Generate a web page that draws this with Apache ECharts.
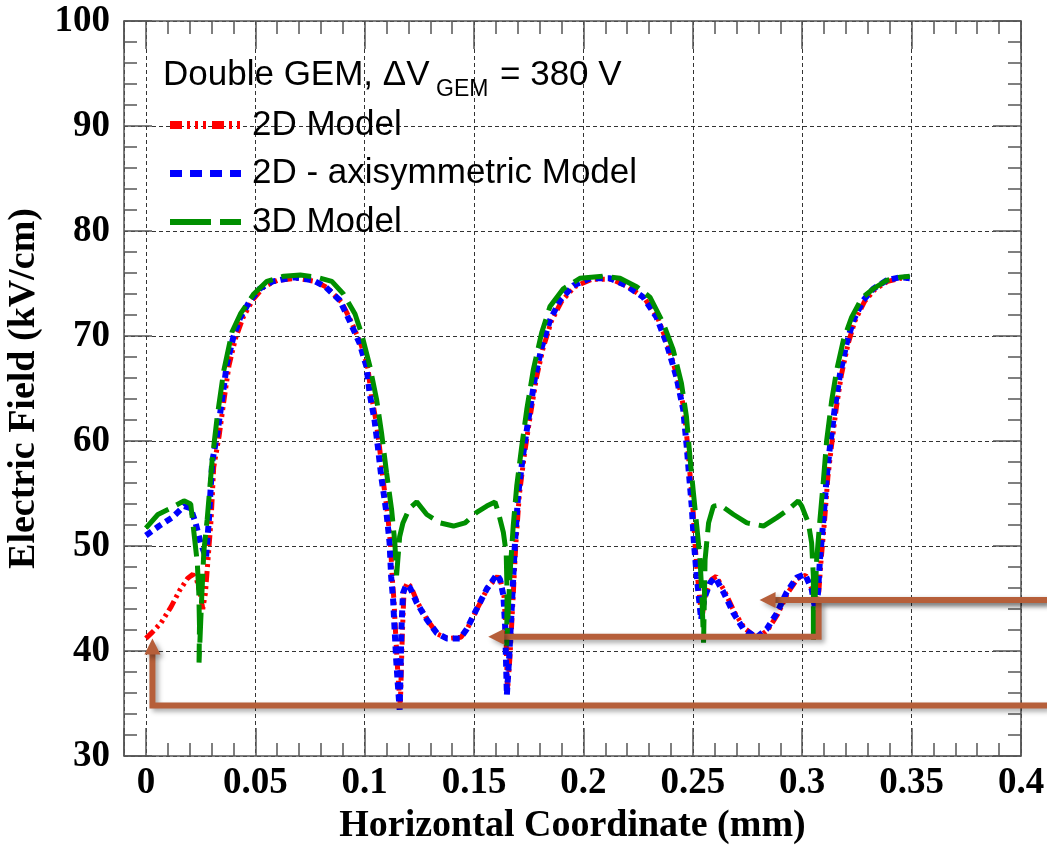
<!DOCTYPE html>
<html>
<head>
<meta charset="utf-8">
<script src="https://cdn.jsdelivr.net/npm/echarts@6/dist/echarts.min.js"></script>
<style>
  html, body { margin: 0; padding: 0; background: #fff; }
  #chart { width: 1047px; height: 845px; }
</style>
</head>
<body>
<div id="chart"></div>
<script>
// 2D model (red)
const model2D = [
  [0, 41.2], [0.003, 41.8], [0.007, 42.7], [0.0115, 44.2], [0.0155, 45.8], [0.019, 46.9],
  [0.0215, 47.3], [0.0232, 46.8], [0.0248, 45.5], [0.026, 44.0], [0.0272, 45.5], [0.0285, 49.0],
  [0.0298, 52.5], [0.031, 57.5], [0.0335, 60.5], [0.0357, 63.9], [0.038, 67.2], [0.041, 69.8],
  [0.0445, 71.8], [0.049, 73.5], [0.054, 74.7], [0.06, 75.3], [0.069, 75.5], [0.0775, 75.2],
  [0.083, 74.6], [0.0895, 73.2], [0.094, 71.3], [0.0985, 69.1], [0.1015, 66.9], [0.103, 64.4],
  [0.1052, 61.9], [0.1068, 59.4], [0.1083, 56.5], [0.1105, 53.0], [0.1118, 50.2], [0.1126, 47.0],
  [0.1134, 44.8], [0.114, 42.3], [0.1148, 39.1], [0.1156, 36.6], [0.1163, 34.8], [0.1172, 41.5],
  [0.118, 45.8], [0.1195, 46.5], [0.1212, 46.1], [0.1242, 44.6], [0.1288, 42.9], [0.1334, 41.6],
  [0.1379, 41.2], [0.144, 41.3], [0.1471, 42.2], [0.1516, 44.1], [0.1562, 46.0], [0.1607, 47.1],
  [0.1622, 46.6], [0.1637, 45.2], [0.1645, 42.3], [0.1649, 39.1], [0.1653, 36.2], [0.1664, 39.4],
  [0.1676, 44.1], [0.1691, 50.2], [0.1707, 54.9], [0.173, 58.7], [0.1753, 61.9], [0.1785, 66.0],
  [0.1815, 68.8], [0.1853, 71.4], [0.19, 73.3], [0.196, 74.7], [0.2037, 75.4], [0.2128, 75.4],
  [0.2204, 74.7], [0.2279, 73.6], [0.234, 71.7], [0.2386, 69.2], [0.243, 66.0], [0.2461, 62.9],
  [0.2477, 59.4], [0.2488, 56.6], [0.25, 53.7], [0.251, 50.2], [0.2522, 47.0], [0.2534, 44.5],
  [0.2542, 43.2], [0.2557, 45.3], [0.2585, 46.8], [0.2607, 47.1], [0.2645, 45.7], [0.269, 43.7],
  [0.2735, 42.2], [0.2795, 41.2], [0.2842, 42.0], [0.2888, 43.5], [0.2933, 45.5], [0.2978, 46.9],
  [0.3016, 47.2], [0.3047, 45.8], [0.3063, 44.2], [0.3076, 45.7], [0.3086, 48.6], [0.3102, 52.4],
  [0.3117, 56.5], [0.3133, 59.4], [0.3156, 63.2], [0.3179, 66.3], [0.3209, 69.2], [0.324, 71.4],
  [0.3285, 73.3], [0.333, 74.4], [0.339, 75.2], [0.345, 75.5], [0.3495, 75.5]
]

// 2D - axisymmetric model (blue)
const model2DAxi = [
  [0, 51.0], [0.006, 51.9], [0.012, 52.7], [0.0175, 53.8], [0.0205, 53.6], [0.0227, 52.2],
  [0.025, 50.3], [0.0275, 48.9], [0.0288, 52.5], [0.0303, 58.0], [0.0326, 60.6], [0.0348, 63.9],
  [0.037, 67.3], [0.04, 69.9], [0.043, 71.7], [0.0477, 73.4], [0.052, 74.5], [0.058, 75.2],
  [0.0674, 75.6], [0.0765, 75.3], [0.082, 74.7], [0.0886, 73.4], [0.093, 71.5], [0.0977, 69.3],
  [0.1008, 67.1], [0.1023, 64.5], [0.1045, 62.0], [0.106, 59.5], [0.1076, 56.6], [0.11, 53.1],
  [0.1114, 50.3], [0.1121, 47.1], [0.113, 44.9], [0.1136, 42.4], [0.1144, 39.2], [0.1152, 36.7],
  [0.116, 34.4], [0.1168, 42.0], [0.1175, 45.5], [0.119, 46.3], [0.1208, 46.0], [0.1238, 44.6],
  [0.1284, 43.0], [0.133, 41.7], [0.1375, 41.2], [0.1436, 41.2], [0.1467, 42.1], [0.1512, 44.0],
  [0.1558, 45.9], [0.1604, 47.3], [0.1619, 46.8], [0.1634, 45.3], [0.1642, 42.4], [0.1646, 39.2],
  [0.165, 35.8], [0.166, 39.2], [0.1672, 44.0], [0.1687, 50.3], [0.1702, 55.0], [0.1725, 58.8],
  [0.1748, 62.0], [0.1779, 66.1], [0.1809, 68.9], [0.1847, 71.5], [0.1893, 73.4], [0.1954, 74.8],
  [0.203, 75.5], [0.2121, 75.5], [0.2197, 74.8], [0.2273, 73.7], [0.2334, 71.8], [0.238, 69.3],
  [0.2425, 66.1], [0.2456, 63.0], [0.2472, 59.5], [0.2483, 56.7], [0.2495, 53.8], [0.2505, 50.3],
  [0.2518, 47.1], [0.253, 44.6], [0.2538, 43.0], [0.2552, 45.0], [0.2579, 46.5], [0.2602, 47.0],
  [0.264, 45.6], [0.2686, 43.6], [0.2731, 42.1], [0.2792, 41.3], [0.2838, 42.1], [0.2884, 43.6],
  [0.2929, 45.6], [0.2975, 47.0], [0.3013, 47.3], [0.3043, 45.9], [0.3059, 44.0], [0.3072, 45.5],
  [0.3081, 48.7], [0.3097, 52.5], [0.3112, 56.6], [0.3127, 59.5], [0.315, 63.3], [0.3173, 66.4],
  [0.3203, 69.3], [0.3234, 71.5], [0.3279, 73.4], [0.3325, 74.5], [0.3386, 75.3], [0.3447, 75.6],
  [0.3492, 75.5]
]

// 3D model (green)
const model3D = [
  [0, 51.7], [0.0055, 53.0], [0.0114, 53.6], [0.0174, 54.3], [0.0205, 54.0], [0.022, 51.2],
  [0.0235, 48.4], [0.0242, 45.5], [0.0245, 42.4], [0.0243, 38.9], [0.0255, 45.0], [0.0265, 49.5],
  [0.028, 52.5], [0.0303, 58.2], [0.0326, 62.3], [0.0356, 66.7], [0.0394, 70.4], [0.0432, 72.1],
  [0.0493, 74.0], [0.0553, 75.2], [0.063, 75.7], [0.0706, 75.8], [0.0782, 75.6], [0.085, 75.2],
  [0.0903, 74.0], [0.0956, 72.1], [0.0986, 70.2], [0.1024, 67.1], [0.1055, 63.9], [0.1077, 60.8],
  [0.11, 57.0], [0.1123, 53.5], [0.1138, 50.3], [0.1146, 47.2], [0.116, 50.9], [0.1175, 52.2],
  [0.1205, 53.6], [0.1238, 54.2], [0.1284, 53.0], [0.1345, 52.2], [0.1406, 51.9], [0.1459, 52.2],
  [0.1512, 53.2], [0.1558, 53.8], [0.1596, 54.2], [0.1611, 53.2], [0.1634, 51.3], [0.1647, 49.3],
  [0.1651, 45.5], [0.1649, 40.5], [0.1664, 47.2], [0.1679, 51.9], [0.1695, 55.7], [0.1718, 59.5],
  [0.1741, 63.0], [0.1771, 66.8], [0.1809, 70.3], [0.1847, 72.8], [0.1908, 74.5], [0.1984, 75.5],
  [0.2091, 75.7], [0.2167, 75.5], [0.2243, 74.7], [0.2304, 73.7], [0.2365, 71.2], [0.241, 68.7],
  [0.2448, 65.5], [0.2471, 62.3], [0.2488, 58.2], [0.2503, 55.0], [0.2518, 51.9], [0.2533, 48.7],
  [0.2541, 45.5], [0.2549, 40.8], [0.2556, 48.7], [0.2572, 52.2], [0.2594, 53.8], [0.2625, 53.9],
  [0.2686, 53.0], [0.2747, 52.2], [0.2823, 51.9], [0.2884, 52.7], [0.2944, 53.6], [0.2982, 54.3],
  [0.2998, 53.8], [0.3028, 52.2], [0.3043, 50.3], [0.3051, 47.1], [0.3051, 40.8], [0.3066, 48.7],
  [0.3081, 52.5], [0.3097, 56.3], [0.3112, 60.1], [0.3135, 63.9], [0.3158, 66.8], [0.3188, 69.6],
  [0.3226, 71.8], [0.3272, 73.6], [0.3325, 74.5], [0.3386, 75.3], [0.3447, 75.6], [0.3492, 75.7]
]

// annotation arrows (data coords, last point = arrow tip)
const arrowLow = [[0.412, 34.8], [0.003, 34.8], [0.003, 41.2]]
const arrowMid = [[0.412, 44.85], [0.2805, 44.85]]
const arrowLong = [[0.412, 44.85], [0.3075, 44.85], [0.3075, 41.35], [0.1565, 41.35]]

const seriesNames = ['2D Model', '2D - axisymmetric Model', '3D Model']

const chart = echarts.init(document.getElementById('chart'))

const tickLine = { color: '#555', width: 1.5 }
const boldSerif = { fontFamily: 'Liberation Serif', fontWeight: 'bold', color: '#000' }
const gridLine = { show: true, lineStyle: { color: '#333', width: 1, type: [4, 3] } }

function minorX(pos) {
  return {
    type: 'value', position: pos, min: -0.01, max: 0.4, interval: 0.01,
    axisLine: { show: false }, axisLabel: { show: false }, splitLine: { show: false },
    axisTick: { inside: true, length: 13, lineStyle: tickLine }
  }
}
function minorY(pos) {
  return {
    type: 'value', position: pos, min: 30, max: 100, interval: 2,
    axisLine: { show: false, onZero: false }, axisLabel: { show: false }, splitLine: { show: false },
    axisTick: { inside: true, length: 13, lineStyle: tickLine }
  }
}

chart.setOption({
  animation: false,
  backgroundColor: '#fff',
  grid: { left: 124, right: 26, top: 21, bottom: 89, containLabel: false, outerBoundsMode: 'none' },
  xAxis: [
    {
      type: 'value', position: 'bottom', min: -0.01, max: 0.4, splitNumber: 8,
      name: 'Horizontal Coordinate (mm)', nameLocation: 'middle', nameGap: 46,
      nameTextStyle: Object.assign({ fontSize: 38 }, boldSerif),
      axisLine: { show: true, onZero: false, lineStyle: tickLine },
      axisTick: { inside: true, length: 28, lineStyle: tickLine },
      axisLabel: Object.assign({ fontSize: 37, margin: 9, formatter: v => (v < 0 ? '' : String(v)) }, boldSerif),
      splitLine: gridLine
    },
    minorX('bottom'),
    {
      type: 'value', position: 'top', min: -0.01, max: 0.4, splitNumber: 8,
      axisLine: { show: true, onZero: false, lineStyle: tickLine },
      axisTick: { inside: true, length: 28, lineStyle: tickLine },
      axisLabel: { show: false }, splitLine: { show: false }
    },
    minorX('top')
  ],
  yAxis: [
    {
      type: 'value', position: 'left', min: 30, max: 100, interval: 10,
      name: 'Electric Field (kV/cm)', nameLocation: 'middle', nameGap: 73,
      nameTextStyle: Object.assign({ fontSize: 38 }, boldSerif),
      axisLine: { show: true, onZero: false, lineStyle: tickLine },
      axisTick: { inside: true, length: 28, lineStyle: tickLine },
      axisLabel: Object.assign({ fontSize: 37, margin: 14 }, boldSerif),
      splitLine: gridLine
    },
    minorY('left'),
    {
      type: 'value', position: 'right', min: 30, max: 100, interval: 10,
      axisLine: { show: true, onZero: false, lineStyle: tickLine },
      axisTick: { inside: true, length: 28, lineStyle: tickLine },
      axisLabel: { show: false }, splitLine: { show: false }
    },
    minorY('right')
  ],
  legend: {
    orient: 'vertical', left: 166, top: 105, padding: 0,
    itemWidth: 71, itemHeight: 14, itemGap: 8.5,
    textStyle: { fontFamily: 'Liberation Sans', fontSize: 35, lineHeight: 40, color: '#000', padding: [0, 0, 0, 6] },
    itemStyle: { opacity: 0 },
    data: [
      { name: seriesNames[0], lineStyle: { width: 8, type: [12, 5, 3, 5, 3, 5, 3, 6] } },
      { name: seriesNames[1], lineStyle: { width: 7, type: [12, 8] } },
      { name: seriesNames[2], lineStyle: { width: 6, type: [41, 9] } }
    ]
  },
  series: [
    {
      name: seriesNames[0], type: 'line', data: model2D, symbol: 'none', z: 3,
      itemStyle: { color: '#ff0000' },
      lineStyle: { color: '#ff0000', width: 5, type: [11, 4, 3, 4, 3, 4, 3, 4] }
    },
    {
      name: seriesNames[1], type: 'line', data: model2DAxi, symbol: 'none', z: 4,
      itemStyle: { color: '#0000ff' },
      lineStyle: { color: '#0000ff', width: 6, type: [7, 5] }
    },
    {
      name: seriesNames[2], type: 'line', data: model3D, symbol: 'none', z: 5,
      itemStyle: { color: '#008f00' },
      lineStyle: { color: '#008f00', width: 5, type: [30, 9] }
    }
  ]
})

// title text with subscript
const titleFont = '35px "Liberation Sans"'
const graphics = [
  { type: 'text', x: 163, y: 75, silent: true, style: { text: 'Double GEM, \u0394V', font: titleFont, fill: '#000', verticalAlign: 'middle' } },
  { type: 'text', x: 436, y: 90, silent: true, style: { text: 'GEM', font: '23px "Liberation Sans"', fill: '#000', verticalAlign: 'middle' } },
  { type: 'text', x: 500, y: 75, silent: true, style: { text: '= 380 V', font: titleFont, fill: '#000', verticalAlign: 'middle' } }
]

// arrows
const arrowColor = '#b65f3a'
const shadow = { shadowBlur: 5, shadowOffsetX: 3, shadowOffsetY: 3, shadowColor: 'rgba(0,0,0,0.35)' }
function toPx(p) {
  return chart.convertToPixel({ xAxisIndex: 0, yAxisIndex: 0 }, p)
}
function addArrow(path) {
  const pts = path.map(toPx)
  const tip = pts[pts.length - 1]
  const prev = pts[pts.length - 2]
  const dx = tip[0] - prev[0]
  const dy = tip[1] - prev[1]
  const len = Math.sqrt(dx * dx + dy * dy)
  const ux = dx / len
  const uy = dy / len
  const headLen = 16
  const halfW = 8
  const base = [tip[0] - ux * headLen, tip[1] - uy * headLen]
  const linePts = pts.slice(0, -1).concat([[base[0] + ux * 2, base[1] + uy * 2]])
  graphics.push({
    type: 'polyline', z: 100, silent: true,
    shape: { points: linePts },
    style: Object.assign({ stroke: arrowColor, lineWidth: 6, fill: null, lineJoin: 'miter' }, shadow)
  })
  graphics.push({
    type: 'polygon', z: 100, silent: true,
    shape: { points: [tip, [base[0] - uy * halfW, base[1] + ux * halfW], [base[0] + uy * halfW, base[1] - ux * halfW]] },
    style: Object.assign({ fill: arrowColor }, shadow)
  })
}
addArrow(arrowLow)
addArrow(arrowLong)
addArrow(arrowMid)

chart.setOption({ graphic: graphics })
</script>
</body>
</html>
